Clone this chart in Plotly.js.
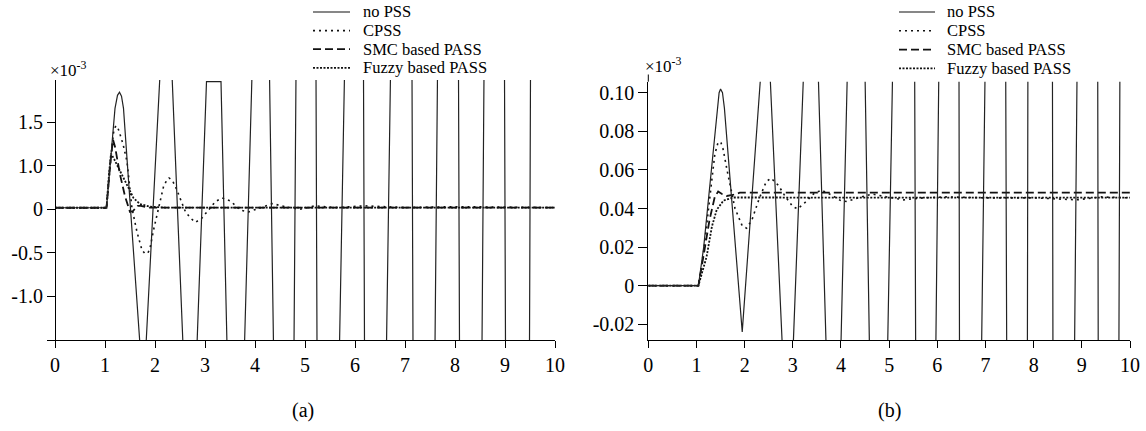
<!DOCTYPE html>
<html>
<head>
<meta charset="utf-8">
<script src="https://cdn.plot.ly/plotly-3.0.1.min.js"></script>
<style>html,body{margin:0;padding:0;background:#fff;}#chart{width:1146px;height:431px;}</style>
</head>
<body>
<div id="chart"></div>
<script>
// ---------------- DATA ----------------
const seriesNames = ["no PSS", "CPSS", "SMC based PASS", "Fuzzy based PASS"];
const xTicks = [0, 1, 2, 3, 4, 5, 6, 7, 8, 9, 10];

// (a) left panel (values in tick units; labels as printed)
const aTickVals = [-1.0, -0.5, 0, 0.5, 1.0];
const aTickText = ["-1.0", "-0.5", "0", "1.0", "1.5"];

const aNoPssT = [0, 1.03, 1.20, 1.25, 1.29, 1.33, 1.37, 1.70, 1.82, 2.10, 2.34, 2.56, 2.84, 3.03, 3.32, 3.44, 3.79, 3.94, 4.29, 4.37, 4.78, 4.82, 5.22, 5.24, 5.69, 5.79, 6.17, 6.19, 6.63, 6.71, 7.14, 7.16, 7.60, 7.65, 8.07, 8.09, 8.54, 8.58, 8.99, 9.01, 9.49, 9.51, 10];
const aNoPssV = [0.018, 0.018, 1.16, 1.31, 1.345, 1.30, 1.16, -1.56, -1.56, 1.55, 1.55, -1.56, -1.56, 1.467, 1.467, -1.56, -1.56, 1.55, 1.55, -1.56, -1.56, 1.55, 1.55, -1.56, -1.56, 1.55, 1.55, -1.56, -1.56, 1.55, 1.55, -1.56, -1.56, 1.55, 1.55, -1.56, -1.56, 1.55, 1.55, -1.56, -1.56, 1.55, 1.55];

const aCpssT = [0, 1.03, 1.12, 1.17, 1.20, 1.22, 1.25, 1.28, 1.36, 1.44, 1.54, 1.64, 1.74, 1.80, 1.86, 1.90, 1.97, 2.07, 2.17, 2.23, 2.28, 2.35, 2.44, 2.54, 2.61, 2.71, 2.81, 2.94, 3.04, 3.21, 3.34, 3.51, 3.71, 3.87, 4.07, 4.35, 4.60, 4.90, 5.20, 5.60, 6.20, 7.00, 8.00, 10];
const aCpssV = [0.018, 0.018, 0.60, 0.88, 0.94, 0.96, 0.945, 0.90, 0.75, 0.55, 0.01, -0.26, -0.47, -0.51, -0.50, -0.45, -0.24, 0.03, 0.26, 0.33, 0.36, 0.33, 0.22, 0.07, -0.03, -0.10, -0.15, -0.10, -0.03, 0.09, 0.13, 0.095, -0.01, -0.03, 0.01, 0.065, 0.03, 0.00, 0.04, 0.02, 0.04, 0.02, 0.03, 0.02];

const aSmcT = [0, 1.03, 1.10, 1.14, 1.16, 1.20, 1.30, 1.40, 1.50, 1.56, 1.65, 1.72, 1.85, 10];
const aSmcV = [0.018, 0.018, 0.50, 0.76, 0.80, 0.72, 0.40, 0.15, -0.03, -0.02, 0.04, 0.04, 0.02, 0.02];

const aFuzT = [0, 1.03, 1.08, 1.12, 1.18, 1.25, 1.35, 1.44, 1.57, 1.70, 1.90, 2.20, 10];
const aFuzV = [0.018, 0.018, 0.40, 0.64, 0.58, 0.50, 0.38, 0.28, 0.13, 0.06, 0.03, 0.02, 0.02];

// (b) right panel (×10^-3)
const bTickVals = [-0.02, 0, 0.02, 0.04, 0.06, 0.08, 0.10];
const bTickText = ["-0.02", "0", "0.02", "0.04", "0.06", "0.08", "0.10"];

const bNoPssT = [0, 1.04, 1.15, 1.25, 1.35, 1.43, 1.47, 1.50, 1.54, 1.58, 1.65, 1.80, 1.95, 2.33, 2.53, 2.78, 3.01, 3.22, 3.53, 3.69, 4.00, 4.13, 4.50, 4.59, 4.97, 5.07, 5.53, 5.55, 5.97, 6.03, 6.45, 6.46, 6.92, 6.99, 7.42, 7.44, 7.87, 7.88, 8.39, 8.40, 8.85, 8.90, 9.33, 9.34, 9.77, 9.79, 10];
const bNoPssV = [0, 0, 0.02, 0.045, 0.072, 0.093, 0.100, 0.1019, 0.100, 0.092, 0.07, 0.022, -0.0239, 0.108, 0.108, -0.030, -0.030, 0.108, 0.108, -0.030, -0.030, 0.108, 0.108, -0.030, -0.030, 0.108, 0.108, -0.030, -0.030, 0.108, 0.108, -0.030, -0.030, 0.108, 0.108, -0.030, -0.030, 0.108, 0.108, -0.030, -0.030, 0.108, 0.108, -0.030, -0.030, 0.108, 0.108];

const bCpssT = [0, 1.04, 1.15, 1.27, 1.38, 1.44, 1.47, 1.51, 1.55, 1.65, 1.80, 1.95, 2.04, 2.15, 2.30, 2.45, 2.55, 2.70, 2.85, 3.00, 3.10, 3.25, 3.45, 3.60, 3.80, 4.00, 4.12, 4.35, 4.65, 4.95, 5.30, 5.70, 6.20, 7.00, 8.00, 8.90, 9.40, 10];
const bCpssV = [0, 0, 0.018, 0.045, 0.068, 0.0735, 0.0747, 0.074, 0.071, 0.058, 0.040, 0.031, 0.0298, 0.034, 0.045, 0.054, 0.0557, 0.052, 0.046, 0.041, 0.0398, 0.043, 0.048, 0.0495, 0.047, 0.044, 0.0436, 0.0455, 0.0475, 0.046, 0.0445, 0.0455, 0.046, 0.0455, 0.0455, 0.0445, 0.046, 0.0455];

const bSmcT = [0, 1.04, 1.15, 1.27, 1.38, 1.45, 1.53, 1.63, 1.75, 1.90, 10];
const bSmcV = [0, 0, 0.016, 0.034, 0.046, 0.0488, 0.0475, 0.0465, 0.047, 0.0482, 0.0482];

const bFuzT = [0, 1.04, 1.13, 1.21, 1.32, 1.42, 1.56, 1.76, 10];
const bFuzV = [0, 0, 0.008, 0.015, 0.0306, 0.0393, 0.0441, 0.0457, 0.0456];

// ---------------- STYLE ----------------
const W = 1146, H = 431;
const FONT = "'Liberation Serif', 'Times New Roman', serif";
const px = x => x / W;
const py = y => 1 - y / H;
const styles = [
  {color: "#222", width: 1.2, dash: "solid"},
  {color: "#111", width: 1.6, dash: "2px,4px"},
  {color: "#111", width: 1.8, dash: "8px,4px"},
  {color: "#111", width: 1.8, dash: "2px,1.5px"}
];

function tr(x, y, i, xa, ya) {
  return {x: x, y: y, xaxis: xa, yaxis: ya, type: "scatter", mode: "lines",
    name: seriesNames[i], showlegend: false, hoverinfo: "skip",
    line: {color: styles[i].color, width: styles[i].width, dash: styles[i].dash, shape: "linear"}};
}

const data = [
  tr(aFuzT, aFuzV, 3, "x", "y"),
  tr(aSmcT, aSmcV, 2, "x", "y"),
  tr(aCpssT, aCpssV, 1, "x", "y"),
  tr(aNoPssT, aNoPssV, 0, "x", "y"),
  tr(bFuzT, bFuzV, 3, "x2", "y2"),
  tr(bSmcT, bSmcV, 2, "x2", "y2"),
  tr(bCpssT, bCpssV, 1, "x2", "y2"),
  tr(bNoPssT, bNoPssV, 0, "x2", "y2")
];

const tickFont = {family: FONT, size: 20, color: "#000"};
const axBase = {showgrid: false, zeroline: false, showline: true, linecolor: "#000", linewidth: 1,
  ticks: "outside", tickcolor: "#000", tickwidth: 1, tickfont: tickFont, fixedrange: true};

const shapes = [];
const annotations = [];

// y2 axis line extension above the clip area
shapes.push({type: "line", xref: "paper", yref: "paper", x0: px(648.3), x1: px(648.3), y0: py(81.7), y1: py(74.5), line: {color: "#000", width: 1}});

// manual legends
function legend(lineX0, lineX1, textX, rows) {
  rows.forEach((ry, i) => {
    shapes.push({type: "line", xref: "paper", yref: "paper", x0: px(lineX0), x1: px(lineX1), y0: py(ry), y1: py(ry),
      line: {color: "#111", width: styles[i].width, dash: styles[i].dash}});
    annotations.push({xref: "paper", yref: "paper", x: px(textX), y: py(ry), xanchor: "left", yanchor: "middle",
      text: seriesNames[i], showarrow: false, borderpad: 0, font: {family: FONT, size: 16.5, color: "#000"}});
  });
}
legend(313, 350, 362, [12, 30.6, 49.2, 67.8]);
legend(899, 935, 946, [12, 30.8, 49.6, 68.4]);

// exponent labels
annotations.push({xref: "paper", yref: "paper", x: px(48), y: py(69), xanchor: "left", yanchor: "middle",
  text: "×10<sup>-3</sup>", showarrow: false, font: {family: FONT, size: 17, color: "#000"}});
annotations.push({xref: "paper", yref: "paper", x: px(643), y: py(65), xanchor: "left", yanchor: "middle",
  text: "×10<sup>-3</sup>", showarrow: false, font: {family: FONT, size: 17, color: "#000"}});

// captions
annotations.push({xref: "paper", yref: "paper", x: px(303), y: py(410), xanchor: "center", yanchor: "middle",
  text: "(a)", showarrow: false, font: {family: FONT, size: 20, color: "#000"}});
annotations.push({xref: "paper", yref: "paper", x: px(889), y: py(410), xanchor: "center", yanchor: "middle",
  text: "(b)", showarrow: false, font: {family: FONT, size: 20, color: "#000"}});

const layout = {
  width: W, height: H,
  margin: {l: 0, r: 0, t: 0, b: 0, pad: 0},
  paper_bgcolor: "#fff", plot_bgcolor: "rgba(0,0,0,0)",
  showlegend: false,
  font: {family: FONT, size: 20, color: "#000"},
  xaxis: Object.assign({}, axBase, {domain: [px(46.5), px(555)], range: [-0.17, 10], anchor: "y",
    tickmode: "array", tickvals: xTicks, ticklen: 7}),
  yaxis: Object.assign({}, axBase, {domain: [py(340), py(80)], range: [-1.502, 1.486], anchor: "free",
    position: px(55), tickmode: "array", tickvals: aTickVals, ticktext: aTickText, ticklen: 8}),
  xaxis2: Object.assign({}, axBase, {domain: [px(648.3), px(1130)], range: [0, 10], anchor: "y2",
    tickmode: "array", tickvals: xTicks, ticklen: 7}),
  yaxis2: Object.assign({}, axBase, {domain: [py(340), py(81.7)], range: [-0.02813, 0.1057], anchor: "x2",
    tickmode: "array", tickvals: bTickVals, ticktext: bTickText, ticklen: 9}),
  shapes: shapes,
  annotations: annotations
};

Plotly.newPlot("chart", data, layout, {displayModeBar: false, staticPlot: true});
</script>
</body>
</html>
